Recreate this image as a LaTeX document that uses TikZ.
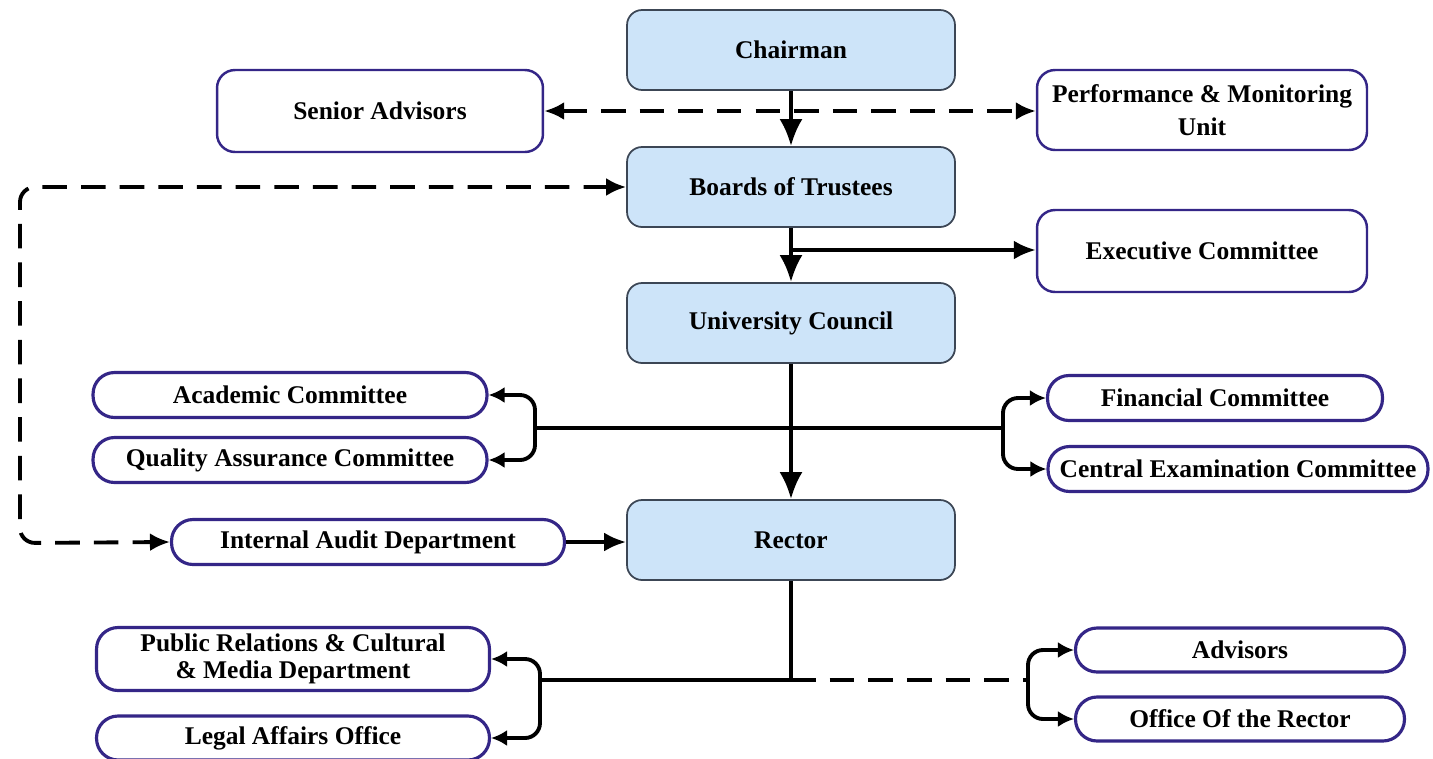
\documentclass[tikz,border=0pt]{standalone}
\usepackage{fontspec}
\setmainfont{Liberation Serif}
\usepackage{tikz}
\usetikzlibrary{arrows.meta}
\definecolor{boxblue}{RGB}{205,228,249}
\definecolor{boxline}{RGB}{60,70,85}
\definecolor{pillline}{RGB}{52,38,135}
\tikzstyle{arr}=[line width=2.2pt,-{Latex[length=5.4mm,width=4.6mm]}]
\tikzstyle{sarr}=[line width=2.2pt,-{Latex[length=3.2mm,width=3.2mm]}]
\newcommand{\orgfont}{\fontsize{14.5}{17}\selectfont\bfseries}

\begin{document}
\begin{tikzpicture}[x=0.02cm,y=-0.02cm]
    \tikzstyle{mainbox}=[rectangle,rounded corners=0.3cm,fill=boxblue,draw=boxline,line width=1pt,minimum width=6.56cm,minimum height=1.6cm,font=\orgfont]
    \tikzstyle{subbox}=[rectangle,rounded corners=0.36cm,fill=white,draw=pillline,line width=1.4pt,minimum height=0.9cm,font=\orgfont,align=center]
    \tikzstyle{pill}=[subbox,rounded corners=0.43cm,line width=1.8pt]

    \useasboundingbox (0,0) rectangle (1433,758);

    \node[mainbox] (chair)   at (791,50)  {Chairman};
    \node[mainbox] (trust)   at (791,187) {Boards of Trustees};
    \node[mainbox] (council) at (791,323) {University Council};
    \node[mainbox] (rector)  at (791,540) {Rector};

    \node[subbox,minimum width=6.52cm,minimum height=1.64cm] (senior) at (380,111)  {Senior Advisors};
    \node[subbox,minimum width=6.6cm,minimum height=1.6cm,font=\fontsize{14.5}{19}\selectfont\bfseries] (perf) at (1202,110) {Performance \& Monitoring\\Unit};
    \node[subbox,minimum width=6.6cm,minimum height=1.64cm] (exec)   at (1202,251) {Executive Committee};
    \node[pill,minimum width=7.88cm] (acad)   at (290,395)  {Academic Committee};
    \node[pill,minimum width=7.88cm] (qual)   at (290,460)  {Quality Assurance Committee};
    \node[pill,minimum width=7.86cm] (audit)  at (368,542)  {Internal Audit Department};
    \node[pill,minimum width=6.7cm]  (fin)    at (1215,398) {Financial Committee};
    \node[pill,minimum width=7.6cm]  (exam)   at (1238,469) {Central Examination Committee};
    \node[pill,minimum width=7.86cm,minimum height=1.26cm,font=\fontsize{14.5}{15}\selectfont\bfseries] (pr) at (293,659) {Public Relations \& Cultural\\\& Media Department};
    \node[pill,minimum width=7.86cm,minimum height=0.88cm] (legal) at (293,738) {Legal Affairs Office};
    \node[pill,minimum width=6.58cm,minimum height=0.88cm] (adv)    at (1240,650) {Advisors};
    \node[pill,minimum width=6.58cm,minimum height=0.88cm] (office) at (1240,719) {Office Of the Rector};

    % junctions
    \coordinate (j1) at (791,250);
    \coordinate (lt) at (20,187);
    \coordinate (lb) at (20,543);
    \coordinate (bl) at (535,428);
    \coordinate (br) at (1003,428);
    \coordinate (j3) at (791,680);
    \coordinate (cl) at (540,680);
    \coordinate (cr) at (1028,680);

    \draw[arr] (chair) -- (trust);
    \draw[arr,{Latex[length=4mm,width=3.6mm]}-{Latex[length=4mm,width=3.6mm]},dash pattern=on 14pt off 8pt] (senior.east) -- (senior.east -| perf.west);
    \draw[arr] (trust) -- (council);
    \draw[arr,-{Latex[length=4.4mm,width=3.8mm]}] (j1) -- (j1 -| exec.west);
    \draw[arr,{Latex[length=4mm,width=3.6mm]}-{Latex[length=4mm,width=3.6mm]},dash pattern=on 14pt off 8pt,rounded corners=0.3cm] (trust.west) -- (lt) -- (lb) -- (audit.west);
    \draw[arr] (council) -- (rector);
    \draw[line width=2.2pt] (bl) -- (br);
    \draw[sarr,rounded corners=0.3cm] (bl) |- (acad.east);
    \draw[sarr,rounded corners=0.3cm] (bl) |- (qual.east);
    \draw[sarr,rounded corners=0.3cm] (br) |- (fin.west);
    \draw[sarr,rounded corners=0.3cm] (br) |- (exam.west);
    \draw[arr,-{Latex[length=4.4mm,width=3.8mm]}] (audit.east) -- (audit.east -| rector.west);
    \draw[line width=2.2pt] (rector) -- (j3) -- (cl);
    \draw[line width=2.2pt,dash pattern=on 14pt off 8pt] (j3) -- (cr);
    \draw[sarr,rounded corners=0.3cm] (cl) |- (pr.east);
    \draw[sarr,rounded corners=0.3cm] (cl) |- (legal.east);
    \draw[sarr,rounded corners=0.3cm] (cr) |- (adv.west);
    \draw[sarr,rounded corners=0.3cm] (cr) |- (office.west);

\end{tikzpicture}
\end{document}
